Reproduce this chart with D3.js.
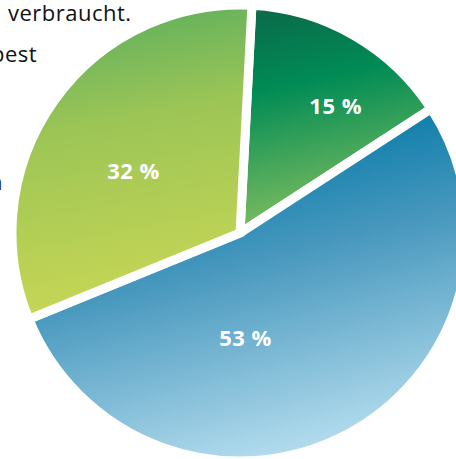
<!DOCTYPE html>
<html>
<head>
<meta charset="utf-8">
<script src="https://cdn.jsdelivr.net/npm/d3@7"></script>
<style>
  html, body { margin: 0; padding: 0; background: #fff; overflow: hidden; }
</style>
</head>
<body>
<div id="chart"></div>
<script>
/*Chart data*/
var shares = [15, 53, 32];
var shareLabels = ["15 %", "53 %", "32 %"];
var textPieces = ["verbraucht.", "best", "n"];

/*Gradient colours for each slice, top to bottom*/
var sliceColors = [
    ["#0a6c4b", "#008b55", "#80be5f"],
    ["#0a7ca9", "#4898be", "#c0e4f3"],
    ["#63b15c", "#9cc556", "#c9d755"]
];

var canvasWidth = 456;
var canvasHeight = 459;
var cx = 240, cy = 233;
var radius = 228;

var svg = d3.select("div#chart").append("svg")
    .attr("width", canvasWidth)
    .attr("height", canvasHeight);

/*Surrounding paragraph text, clipped at the left edge*/
svg.selectAll(".para")
    .data(textPieces)
    .join("text")
    .attr("class", "para")
    .attr("x", function(d, i){ return [8, -9, -11][i]; })
    .attr("y", function(d, i){ return [21, 62, 190][i]; })
    .attr("font-family", "'Open Sans', sans-serif")
    .attr("font-size", 22)
    .attr("letter-spacing", 0.5)
    .attr("fill", "#111")
    .text(function(d){ return d; });

var container = svg.append("g")
    .attr("transform", "translate(" + cx + "," + cy + ")");

/*Gradient direction per slice, relative to the centre*/
var gradLines = [
    [15, -218, 60, -8],
    [60, -103, 140, 222],
    [-100, -223, -45, 67]
];

var defs = svg.append("defs");
sliceColors.forEach(function(cols, i){
    var g = defs.append("linearGradient")
        .attr("id", "grad" + i)
        .attr("gradientUnits", "userSpaceOnUse")
        .attr("x1", gradLines[i][0]).attr("y1", gradLines[i][1])
        .attr("x2", gradLines[i][2]).attr("y2", gradLines[i][3]);
    g.selectAll("stop")
        .data(cols)
        .join("stop")
        .attr("offset", function(d, j){ return [0, 0.35, 1][j]; })
        .attr("stop-color", function(d){ return d; });
});

var start = 3 * Math.PI / 180;
var pie = d3.pie().sort(null).startAngle(start).endAngle(start + 2 * Math.PI);
var arc = d3.arc().innerRadius(0).outerRadius(radius);
var arcs = pie(shares);

container.selectAll(".slice")
    .data(arcs)
    .join("path")
    .attr("class", "slice")
    .attr("d", arc)
    .attr("fill", function(d, i){ return "url(#grad" + i + ")"; })
    .attr("stroke", "#fff")
    .attr("stroke-width", 9)
    .attr("stroke-linejoin", "miter");

/*Label placement: angle (deg) and distance from centre*/
var labelPlace = [[37, 159], [177, 105], [300, 123]];

container.selectAll(".label")
    .data(arcs)
    .join("text")
    .attr("class", "label")
    .attr("x", function(d, i){ return labelPlace[i][1] * Math.sin(labelPlace[i][0] * Math.PI / 180); })
    .attr("y", function(d, i){ return -labelPlace[i][1] * Math.cos(labelPlace[i][0] * Math.PI / 180); })
    .attr("dy", "0.36em")
    .attr("text-anchor", "middle")
    .attr("font-family", "'Open Sans', sans-serif")
    .attr("font-weight", "bold")
    .attr("font-size", 22)
    .attr("letter-spacing", 0.5)
    .attr("fill", "#fff")
    .text(function(d, i){ return shareLabels[i]; });
</script>
</body>
</html>
